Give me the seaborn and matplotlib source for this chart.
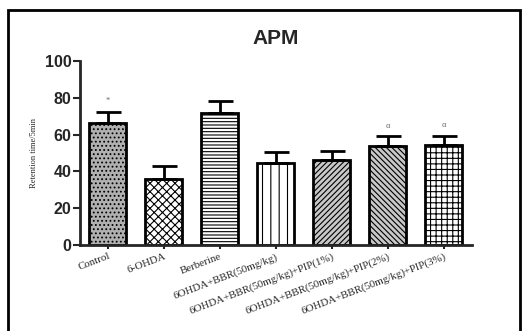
import numpy as np
import pandas as pd
import matplotlib
matplotlib.use("Agg")
import matplotlib.pyplot as plt
import seaborn as sns
from matplotlib.patches import Rectangle

groups = ["Control", "6-OHDA", "Berberine", "6OHDA+BBR(50mg/kg)",
          "6OHDA+BBR(50mg/kg)+PIP(1%)", "6OHDA+BBR(50mg/kg)+PIP(2%)",
          "6OHDA+BBR(50mg/kg)+PIP(3%)"]
means = [66.5, 35.7, 71.5, 44.7, 46.0, 53.8, 54.2]
sem = [6.0, 7.3, 6.9, 6.0, 5.0, 5.2, 5.2]
marks = ["*", "", "", "", "", "\u03b1", "\u03b1"]

hatches = ["....", "xxxx", "-----", "||", "//////", "\\\\\\\\\\\\", "+++"]
faces = ["#b0b0b0", "white", "white", "white", "#c8c8c8", "#c8c8c8", "white"]

df = pd.DataFrame({"group": groups, "mean": means})

sns.set_style("ticks")
plt.rcParams["hatch.linewidth"] = 0.8

fig = plt.figure(figsize=(5.25, 3.31), dpi=100)
ax = fig.add_axes([0.152, 0.26, 0.747, 0.556])

sns.barplot(data=df, x="group", y="mean", color="white", width=0.66,
            edgecolor="black", linewidth=2, errorbar=None, ax=ax)

for p, h, fc in zip(ax.patches, hatches, faces):
    p.set_hatch(h)
    p.set_facecolor(fc)

x = np.arange(len(groups))
ax.errorbar(x, means, yerr=[np.zeros(len(sem)), sem], fmt="none",
            ecolor="black", elinewidth=2, capsize=9, capthick=2, zorder=3)

for xi, m, s, t in zip(x, means, sem, marks):
    if t:
        ax.text(xi, m + s + 3.5, t, ha="center", va="bottom", fontsize=6,
                color="#666666", family="Liberation Serif")

ax.set_xlim(-0.5, 6.5)
ax.set_ylim(0, 100)
ax.set_yticks([0, 20, 40, 60, 80, 100])
ax.set_title("APM", fontsize=15, fontweight="bold", family="Liberation Sans", pad=12)
ax.set_xlabel("")
ax.set_ylabel("Retention time/5min", fontsize=6, family="Liberation Serif", labelpad=5)

sns.despine(ax=ax)
for s in ["left", "bottom"]:
    ax.spines[s].set_linewidth(2)
ax.tick_params(axis="y", width=1.5, length=5, labelsize=11.5, pad=1)
ax.tick_params(axis="x", width=1.5, length=3, pad=2)
for lbl in ax.get_yticklabels():
    lbl.set_fontweight("bold")
    lbl.set_family("Liberation Sans")
ax.set_xticks(x)
ax.set_xticklabels(groups, rotation=21, ha="right", rotation_mode="anchor",
                   fontsize=7.8, family="Liberation Serif")

fig.patches.append(Rectangle((8 / 525, -0.05), 512 / 525, 1.05 - 10 / 331,
                             transform=fig.transFigure, fill=False,
                             edgecolor="black", linewidth=2))

fig.savefig("out.png", dpi=100)
